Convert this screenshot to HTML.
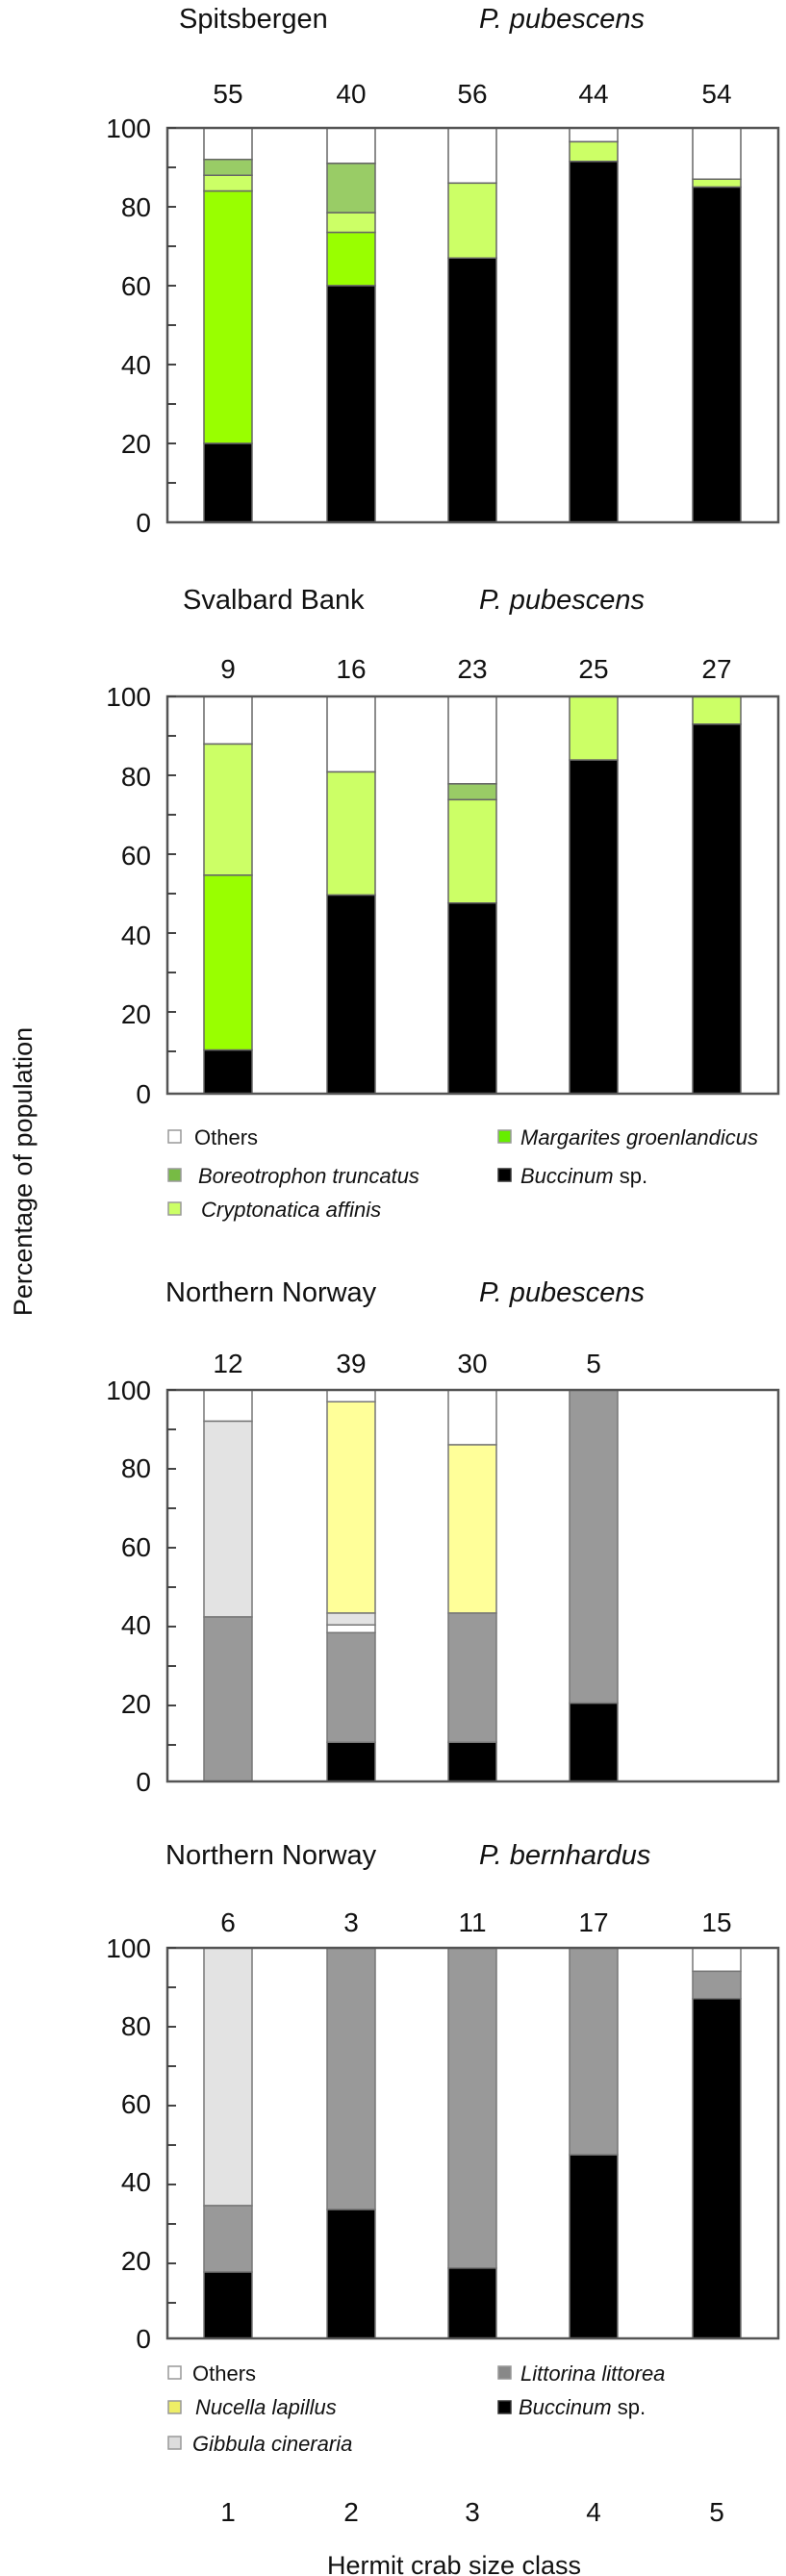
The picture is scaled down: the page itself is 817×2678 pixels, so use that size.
<!DOCTYPE html>
<html><head><meta charset="utf-8">
<style>
html,body{margin:0;padding:0;background:#fff;}
svg{display:block;}
text{font-family:"Liberation Sans",Arial,sans-serif;fill:#111;}
.t{font-size:29px;}
.n{font-size:28px;text-anchor:middle;}
.tk{font-size:28px;text-anchor:end;}
.lg{font-size:22px;}
.i{font-style:italic;}
</style></head><body>
<svg width="817" height="2678" viewBox="0 0 817 2678" xmlns="http://www.w3.org/2000/svg">
<defs>
<g id="ticks">
<path d="M0 0H9M0 41H9M0 82H9M0 123H9M0 164H9M0 205H9M0 246H9M0 287H9M0 328H9M0 369H9" stroke="#444" stroke-width="2" fill="none" transform="scale(1,1)"/>
</g>
</defs>

<!-- Panel 1 -->
<text class="t" x="186" y="29">Spitsbergen</text>
<text class="t i" x="498" y="29">P. pubescens</text>
<g class="n-g">
<text class="n" x="237" y="107">55</text><text class="n" x="365" y="107">40</text><text class="n" x="491" y="107">56</text><text class="n" x="617" y="107">44</text><text class="n" x="745" y="107">54</text>
</g>
<text class="tk" x="157" y="143">100</text><text class="tk" x="157" y="225">80</text><text class="tk" x="157" y="307">60</text><text class="tk" x="157" y="389">40</text><text class="tk" x="157" y="471">20</text><text class="tk" x="157" y="553">0</text>
<svg x="174" y="133" width="635" height="410" viewBox="0 0 635 100" preserveAspectRatio="none" overflow="visible">
<g stroke="#666" stroke-width="1.5" vector-effect="non-scaling-stroke">
<rect x="38" y="0" width="50" height="8" fill="#fff" vector-effect="non-scaling-stroke"/>
<rect x="38" y="8" width="50" height="4" fill="#99cc66" vector-effect="non-scaling-stroke"/>
<rect x="38" y="12" width="50" height="4" fill="#ccff66" vector-effect="non-scaling-stroke"/>
<rect x="38" y="16" width="50" height="64" fill="#99ff00" vector-effect="non-scaling-stroke"/>
<rect x="38" y="80" width="50" height="20" fill="#000" vector-effect="non-scaling-stroke"/>
<rect x="166" y="0" width="50" height="9" fill="#fff" vector-effect="non-scaling-stroke"/>
<rect x="166" y="9" width="50" height="12.5" fill="#99cc66" vector-effect="non-scaling-stroke"/>
<rect x="166" y="21.5" width="50" height="5" fill="#ccff66" vector-effect="non-scaling-stroke"/>
<rect x="166" y="26.5" width="50" height="13.5" fill="#99ff00" vector-effect="non-scaling-stroke"/>
<rect x="166" y="40" width="50" height="60" fill="#000" vector-effect="non-scaling-stroke"/>
<rect x="292" y="0" width="50" height="14" fill="#fff" vector-effect="non-scaling-stroke"/>
<rect x="292" y="14" width="50" height="19" fill="#ccff66" vector-effect="non-scaling-stroke"/>
<rect x="292" y="33" width="50" height="67" fill="#000" vector-effect="non-scaling-stroke"/>
<rect x="418" y="0" width="50" height="3.5" fill="#fff" vector-effect="non-scaling-stroke"/>
<rect x="418" y="3.5" width="50" height="5" fill="#ccff66" vector-effect="non-scaling-stroke"/>
<rect x="418" y="8.5" width="50" height="91.5" fill="#000" vector-effect="non-scaling-stroke"/>
<rect x="546" y="0" width="50" height="13" fill="#fff" vector-effect="non-scaling-stroke"/>
<rect x="546" y="13" width="50" height="2" fill="#ccff66" vector-effect="non-scaling-stroke"/>
<rect x="546" y="15" width="50" height="85" fill="#000" vector-effect="non-scaling-stroke"/>
</g>
<rect x="0" y="0" width="635" height="100" fill="none" stroke="#555" stroke-width="2.5" vector-effect="non-scaling-stroke"/>
</svg>
<use href="#ticks" x="174" y="133"/>

<!-- Panel 2 -->
<text class="t" x="190" y="633">Svalbard Bank</text>
<text class="t i" x="498" y="633">P. pubescens</text>
<text class="n" x="237" y="705">9</text><text class="n" x="365" y="705">16</text><text class="n" x="491" y="705">23</text><text class="n" x="617" y="705">25</text><text class="n" x="745" y="705">27</text>
<text class="tk" x="157" y="734">100</text><text class="tk" x="157" y="817">80</text><text class="tk" x="157" y="899">60</text><text class="tk" x="157" y="982">40</text><text class="tk" x="157" y="1064">20</text><text class="tk" x="157" y="1147">0</text>
<svg x="174" y="724" width="635" height="413" viewBox="0 0 635 100" preserveAspectRatio="none" overflow="visible">
<g stroke="#666" stroke-width="1.5">
<rect x="38" y="0" width="50" height="12" fill="#fff" vector-effect="non-scaling-stroke"/>
<rect x="38" y="12" width="50" height="33" fill="#ccff66" vector-effect="non-scaling-stroke"/>
<rect x="38" y="45" width="50" height="44" fill="#99ff00" vector-effect="non-scaling-stroke"/>
<rect x="38" y="89" width="50" height="11" fill="#000" vector-effect="non-scaling-stroke"/>
<rect x="166" y="0" width="50" height="19" fill="#fff" vector-effect="non-scaling-stroke"/>
<rect x="166" y="19" width="50" height="31" fill="#ccff66" vector-effect="non-scaling-stroke"/>
<rect x="166" y="50" width="50" height="50" fill="#000" vector-effect="non-scaling-stroke"/>
<rect x="292" y="0" width="50" height="22" fill="#fff" vector-effect="non-scaling-stroke"/>
<rect x="292" y="22" width="50" height="4" fill="#99cc66" vector-effect="non-scaling-stroke"/>
<rect x="292" y="26" width="50" height="26" fill="#ccff66" vector-effect="non-scaling-stroke"/>
<rect x="292" y="52" width="50" height="48" fill="#000" vector-effect="non-scaling-stroke"/>
<rect x="418" y="0" width="50" height="16" fill="#ccff66" vector-effect="non-scaling-stroke"/>
<rect x="418" y="16" width="50" height="84" fill="#000" vector-effect="non-scaling-stroke"/>
<rect x="546" y="0" width="50" height="7" fill="#ccff66" vector-effect="non-scaling-stroke"/>
<rect x="546" y="7" width="50" height="93" fill="#000" vector-effect="non-scaling-stroke"/>
</g>
<rect x="0" y="0" width="635" height="100" fill="none" stroke="#555" stroke-width="2.5" vector-effect="non-scaling-stroke"/>
</svg>
<use href="#ticks" x="174" y="724"/>
<!-- legend 2 -->
<g stroke="#999" stroke-width="1.5">
<rect x="175" y="1175" width="13" height="13" fill="#fff"/>
<rect x="175" y="1215" width="13" height="13" fill="#77bb44"/>
<rect x="175" y="1250" width="13" height="13" fill="#ccff66"/>
<rect x="518" y="1175" width="13" height="13" fill="#66ee00"/>
<rect x="518" y="1215" width="13" height="13" fill="#000" stroke="#333"/>
</g>
<text class="lg" x="202" y="1190">Others</text>
<text class="lg i" x="206" y="1230">Boreotrophon truncatus</text>
<text class="lg i" x="209" y="1265">Cryptonatica affinis</text>
<text class="lg i" x="541" y="1190">Margarites groenlandicus</text>
<text class="lg" x="541" y="1230"><tspan class="i">Buccinum</tspan> sp.</text>

<!-- Y axis label -->
<text transform="translate(33,1218) rotate(-90)" style="font-size:27px;text-anchor:middle;">Percentage of population</text>

<!-- Panel 3 -->
<text class="t" x="172" y="1353">Northern Norway</text>
<text class="t i" x="498" y="1353">P. pubescens</text>
<text class="n" x="237" y="1427">12</text><text class="n" x="365" y="1427">39</text><text class="n" x="491" y="1427">30</text><text class="n" x="617" y="1427">5</text>
<text class="tk" x="157" y="1455">100</text><text class="tk" x="157" y="1536">80</text><text class="tk" x="157" y="1618">60</text><text class="tk" x="157" y="1699">40</text><text class="tk" x="157" y="1781">20</text><text class="tk" x="157" y="1862">0</text>
<svg x="174" y="1445" width="635" height="407" viewBox="0 0 635 100" preserveAspectRatio="none" overflow="visible">
<g stroke="#777" stroke-width="1.5">
<rect x="38" y="0" width="50" height="8" fill="#fff" vector-effect="non-scaling-stroke"/>
<rect x="38" y="8" width="50" height="50" fill="#e3e3e3" vector-effect="non-scaling-stroke"/>
<rect x="38" y="58" width="50" height="42" fill="#999" vector-effect="non-scaling-stroke"/>
<rect x="166" y="0" width="50" height="3" fill="#fff" vector-effect="non-scaling-stroke"/>
<rect x="166" y="3" width="50" height="54" fill="#ffff99" vector-effect="non-scaling-stroke"/>
<rect x="166" y="57" width="50" height="3" fill="#e3e3e3" vector-effect="non-scaling-stroke"/>
<rect x="166" y="60" width="50" height="2" fill="#fff" vector-effect="non-scaling-stroke"/>
<rect x="166" y="62" width="50" height="28" fill="#999" vector-effect="non-scaling-stroke"/>
<rect x="166" y="90" width="50" height="10" fill="#000" vector-effect="non-scaling-stroke"/>
<rect x="292" y="0" width="50" height="14" fill="#fff" vector-effect="non-scaling-stroke"/>
<rect x="292" y="14" width="50" height="43" fill="#ffff99" vector-effect="non-scaling-stroke"/>
<rect x="292" y="57" width="50" height="33" fill="#999" vector-effect="non-scaling-stroke"/>
<rect x="292" y="90" width="50" height="10" fill="#000" vector-effect="non-scaling-stroke"/>
<rect x="418" y="0" width="50" height="80" fill="#999" vector-effect="non-scaling-stroke"/>
<rect x="418" y="80" width="50" height="20" fill="#000" vector-effect="non-scaling-stroke"/>
</g>
<rect x="0" y="0" width="635" height="100" fill="none" stroke="#555" stroke-width="2.5" vector-effect="non-scaling-stroke"/>
</svg>
<use href="#ticks" x="174" y="1445"/>

<!-- Panel 4 -->
<text class="t" x="172" y="1938">Northern Norway</text>
<text class="t i" x="498" y="1938">P. bernhardus</text>
<text class="n" x="237" y="2008">6</text><text class="n" x="365" y="2008">3</text><text class="n" x="491" y="2008">11</text><text class="n" x="617" y="2008">17</text><text class="n" x="745" y="2008">15</text>
<text class="tk" x="157" y="2035">100</text><text class="tk" x="157" y="2116">80</text><text class="tk" x="157" y="2197">60</text><text class="tk" x="157" y="2278">40</text><text class="tk" x="157" y="2360">20</text><text class="tk" x="157" y="2441">0</text>
<svg x="174" y="2025" width="635" height="406" viewBox="0 0 635 100" preserveAspectRatio="none" overflow="visible">
<g stroke="#777" stroke-width="1.5">
<rect x="38" y="0" width="50" height="66" fill="#e3e3e3" vector-effect="non-scaling-stroke"/>
<rect x="38" y="66" width="50" height="17" fill="#999" vector-effect="non-scaling-stroke"/>
<rect x="38" y="83" width="50" height="17" fill="#000" vector-effect="non-scaling-stroke"/>
<rect x="166" y="0" width="50" height="67" fill="#999" vector-effect="non-scaling-stroke"/>
<rect x="166" y="67" width="50" height="33" fill="#000" vector-effect="non-scaling-stroke"/>
<rect x="292" y="0" width="50" height="82" fill="#999" vector-effect="non-scaling-stroke"/>
<rect x="292" y="82" width="50" height="18" fill="#000" vector-effect="non-scaling-stroke"/>
<rect x="418" y="0" width="50" height="53" fill="#999" vector-effect="non-scaling-stroke"/>
<rect x="418" y="53" width="50" height="47" fill="#000" vector-effect="non-scaling-stroke"/>
<rect x="546" y="0" width="50" height="6" fill="#fff" vector-effect="non-scaling-stroke"/>
<rect x="546" y="6" width="50" height="7" fill="#999" vector-effect="non-scaling-stroke"/>
<rect x="546" y="13" width="50" height="87" fill="#000" vector-effect="non-scaling-stroke"/>
</g>
<rect x="0" y="0" width="635" height="100" fill="none" stroke="#555" stroke-width="2.5" vector-effect="non-scaling-stroke"/>
</svg>
<use href="#ticks" x="174" y="2025"/>
<!-- legend 4 -->
<g stroke="#999" stroke-width="1.5">
<rect x="175" y="2460" width="13" height="13" fill="#fff"/>
<rect x="175" y="2496" width="13" height="13" fill="#eeee66"/>
<rect x="175" y="2533" width="13" height="13" fill="#ddd"/>
<rect x="518" y="2460" width="13" height="13" fill="#888"/>
<rect x="518" y="2496" width="13" height="13" fill="#000" stroke="#333"/>
</g>
<text class="lg" x="200" y="2475">Others</text>
<text class="lg i" x="203" y="2510">Nucella lapillus</text>
<text class="lg i" x="200" y="2548">Gibbula cineraria</text>
<text class="lg i" x="541" y="2475">Littorina littorea</text>
<text class="lg" x="539" y="2510"><tspan class="i">Buccinum</tspan> sp.</text>

<!-- x axis -->
<text class="n" x="237" y="2621">1</text><text class="n" x="365" y="2621">2</text><text class="n" x="491" y="2621">3</text><text class="n" x="617" y="2621">4</text><text class="n" x="745" y="2621">5</text>
<text x="472" y="2676" style="font-size:27px;text-anchor:middle;">Hermit crab size class</text>
</svg>
</body></html>
